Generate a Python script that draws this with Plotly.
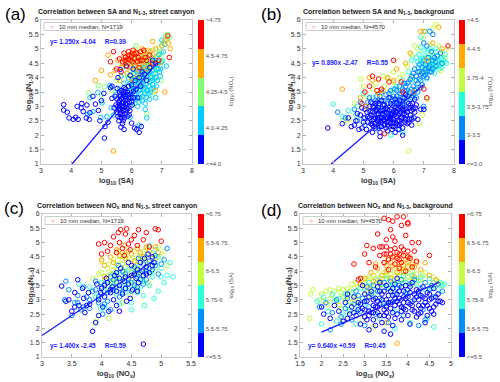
import plotly.graph_objects as go

# ---------------- DATA ----------------
# Panel (a): x = log10(SA), y = log10(N1-3), colour class = log10(NOx) bin
a_c0 = [(3.75,3.06),(3.75,2.87),(3.87,2.80),(3.93,2.60),(4.07,2.55),(4.15,2.62),(4.2,3.0),(4.33,2.95),(4.23,2.55),(4.4,2.82),
        (4.5,2.6),(4.52,3.05),(4.62,2.78),(4.8,3.08),(4.72,3.35),(4.9,2.86),(5.0,3.2),(5.08,3.45),(4.95,2.5),(5.12,2.3),
        (5.1,1.9),(5.22,2.45),(5.3,3.65),(5.35,3.28),(5.42,2.95),(5.48,3.05),(5.52,3.62),(5.55,2.65),(5.6,2.95),(5.62,3.4),
        (5.65,2.78),(5.68,3.12),(5.7,3.32),(5.72,2.5),(5.76,3.0),(5.8,3.6),(5.78,2.75),(5.85,3.22),(5.9,3.7),(5.88,2.92),
        (5.95,3.42),(6.0,2.42),(6.02,3.05),(6.06,3.52),(6.1,2.25),(6.12,3.9),(6.17,2.2),(6.2,3.3),(6.25,2.1),(6.3,3.7),
        (6.32,2.3),(5.65,2.28),(5.55,4.0),(5.62,4.28),(5.75,2.2),(6.5,3.9),(6.42,4.12),(6.8,4.5),(5.95,4.08),(5.6,3.2),
        (5.68,2.6),(5.72,3.5),(5.8,3.1),(5.82,2.85),(5.64,2.9),(5.7,2.7),(5.6,3.05),(5.9,3.3),(6.0,3.75),(6.15,3.6),
        (6.25,4.0),(5.45,3.35),(5.5,2.8),(5.35,3.7),(5.82,4.4),(6.05,4.3),(6.35,4.2),(6.6,4.35),(6.7,4.6),(4.6,2.55),(4.35,3.1),
        (5.58,3.15),(5.62,2.72),(5.66,3.25),(5.7,2.95),(5.74,3.4),(5.78,3.2),(5.84,2.95),(5.86,3.5),(5.92,3.15),(5.66,3.55),
        (5.7,2.4),(5.58,2.5),(5.75,3.65),(5.92,2.7),(5.54,3.0),(6.08,3.3),(6.0,3.15),(5.64,3.35),
        (5.56,2.88),(5.6,3.5),(5.67,3.0),(5.72,3.15),(5.76,2.6),(5.8,3.35),(5.84,3.05),(5.88,3.4),(5.94,2.85),(5.98,3.3),
        (5.52,3.25),(5.74,2.85),(5.62,2.62),(5.86,2.65),(5.78,3.5)]
a_c1 = [(4.55,2.72),(4.62,3.3),(4.72,2.82),(4.88,3.48),(5.02,3.12),(5.28,3.72),(5.48,3.42),(5.32,2.95),(4.98,2.62),(5.18,2.65),
        (5.4,2.7),(5.95,2.62),(6.25,2.35),(6.5,2.6),(6.45,3.1),(5.9,3.95),(6.0,3.5),(6.1,4.0),(6.15,3.25),(6.2,3.7),
        (6.28,4.2),(6.3,3.45),(6.35,3.9),(6.4,3.6),(6.42,4.35),(6.48,3.75),(6.5,4.1),(6.55,3.45),(6.55,4.45),(6.6,3.85),
        (6.62,4.05),(6.65,3.6),(6.7,4.25),(6.75,3.95),(6.78,4.6),(6.82,3.7),(6.88,4.3),(6.9,4.8),(6.95,4.05),(7.0,4.55),
        (7.05,4.9),(7.1,5.15),(7.0,5.3),(6.6,3.25),(6.8,3.3),(6.05,3.2),(6.2,3.0),(5.85,3.4),(5.75,3.8),(5.65,4.05),
        (5.6,3.6),(6.35,3.2),(6.45,2.9),(7.15,4.4),(5.95,3.0),(6.1,3.45),(6.3,4.0),(6.45,4.25),(6.68,4.45),(6.38,3.75),
        (6.0,3.7),(6.05,3.95),(6.12,3.55),(6.18,4.2),(6.22,3.85),(6.28,3.6),(6.33,4.1),(6.38,3.35),(6.4,3.95),(6.45,3.65),
        (6.52,4.3),(6.58,3.7),(6.6,4.2),(6.65,4.0),(6.7,3.75),(6.72,4.4),(6.78,4.15),(6.85,3.9),(6.9,4.55),(6.92,4.2),
        (5.95,3.8),(6.05,3.6),(6.15,3.85),(6.25,3.55),
        (6.02,3.35),(6.08,3.75),(6.14,3.4),(6.2,3.95),(6.26,3.3),(6.32,3.75),(6.36,4.3),(6.44,3.45),(6.5,3.55),(6.56,4.2),
        (6.62,3.5),(6.68,3.9),(6.74,3.65),(6.8,4.0),(6.86,4.45),(6.96,4.3),(6.48,3.3),(6.25,3.15),(5.98,3.55),(6.08,4.15)]
a_c2 = [(4.58,3.48),(4.9,3.72),(5.1,3.68),(5.0,3.4),(5.35,3.55),(5.5,3.9),(5.75,4.1),(5.85,4.5),(5.95,4.25),(6.0,4.7),
        (6.05,3.85),(6.1,4.45),(6.15,5.1),(6.2,4.1),(6.25,4.6),(6.3,3.8),(6.35,4.4),(6.4,4.8),(6.42,3.55),(6.48,4.2),
        (6.5,4.55),(6.55,4.0),(6.58,4.75),(6.62,4.35),(6.65,3.85),(6.7,4.95),(6.72,4.15),(6.78,4.5),(6.82,4.0),(6.85,4.75),
        (6.9,5.05),(6.95,4.4),(7.0,4.85),(7.05,5.2),(7.12,5.45),(7.18,5.3),(7.2,5.5),(7.25,5.4),(6.98,3.9),(6.6,3.4),
        (6.3,3.3),(6.1,3.1),(6.5,2.75),(6.75,3.5),(6.15,3.6),(6.45,4.05),(6.25,4.25),(6.55,4.6),(6.8,4.6),(5.8,3.7),(5.7,4.35),
        (6.1,4.25),(6.15,3.95),(6.2,4.35),(6.28,4.05),(6.32,4.6),(6.38,4.25),(6.42,4.5),(6.46,3.9),(6.52,4.4),(6.58,4.15),
        (6.6,4.55),(6.66,4.25),(6.74,4.65),(6.76,4.35),(6.88,4.55),(6.92,4.85),(6.0,4.05),(5.9,4.0),(6.05,4.6),
        (6.14,4.55),(6.22,4.45),(6.3,4.3),(6.34,4.05),(6.4,4.35),(6.48,4.65),(6.54,4.3),(6.64,4.45),(6.7,4.3),(6.84,4.25),
        (6.94,4.65),(7.04,4.6),(6.68,4.7),(6.36,4.7)]
a_c3 = [(5.4,1.45),(4.8,3.9),(5.0,4.25),(5.22,4.78),(5.3,4.1),(5.45,4.25),(5.55,4.6),(5.65,4.35),(5.75,4.75),(5.8,4.5),
        (5.9,4.65),(5.95,4.35),(6.0,4.85),(6.05,4.5),(6.1,4.7),(6.15,4.3),(6.2,4.85),(6.25,4.45),(6.3,4.65),(6.35,5.0),
        (6.4,4.4),(6.45,4.8),(6.5,4.3),(6.55,4.95),(6.6,4.55),(6.7,4.8),(6.8,5.0),(6.9,4.5),(7.0,5.1),(7.1,5.3),
        (7.22,5.2),(7.28,5.0),(6.0,3.95),(5.85,4.15),(6.35,4.2),(6.7,5.25),(5.6,3.9),(6.8,3.55),(7.1,3.5),(6.2,4.05),
        (5.85,4.6),(5.95,4.75),(6.08,4.4),(6.12,4.9),(6.18,4.6),(6.28,4.75),(6.38,4.55),(6.42,4.9),(6.52,4.7),(6.6,4.4),
        (6.62,4.9),(5.7,4.5)]
a_c4 = [(5.3,4.55),(5.5,4.3),(5.6,4.65),(5.7,4.55),(5.75,4.85),(5.8,4.7),(5.9,4.9),(5.85,4.4),(5.95,4.6),(6.0,4.75),
        (6.05,4.95),(6.1,4.65),(6.15,4.85),(6.2,4.55),(6.3,4.9),(6.35,4.6),(6.45,4.7),(6.5,4.6),(6.6,4.78),(6.7,4.5),
        (6.9,4.6),(7.2,5.45),(7.25,4.7),(5.65,4.2),(6.25,4.35),(5.4,4.9),(6.4,4.95),
        (5.88,4.65),(5.92,4.78),(6.02,4.55),(6.08,4.82),(6.22,4.7),(6.28,4.6),(5.78,4.6)]

# Panel (b): x = log10(SA), y = log10(N1-3), colour class = log10(NOx) bin
b_c0 = [(3.82,2.25),(4.3,2.4),(4.5,2.6),(4.6,2.3),(4.75,2.5),(4.85,2.2),(4.9,2.7),(5.0,2.45),(5.05,2.9),(5.1,2.2),
        (5.15,2.65),(5.2,3.0),(5.25,2.4),(5.3,2.8),(5.35,2.55),(5.4,3.1),(5.4,2.25),(5.45,2.7),(5.5,2.95),(5.5,2.4),
        (5.55,2.1),(5.6,2.6),(5.6,3.2),(5.65,2.85),(5.7,2.35),(5.7,3.05),(5.75,2.6),(5.8,2.15),(5.8,2.9),(5.85,3.3),
        (5.85,2.45),(5.9,2.7),(5.95,3.05),(5.95,2.3),(6.0,2.55),(6.0,2.85),(6.05,3.25),(6.05,2.1),(6.1,2.65),(6.15,2.95),
        (6.15,2.35),(6.2,3.2),(6.2,2.5),(6.25,2.8),(6.3,2.25),(6.3,3.05),(6.35,2.6),(6.4,2.9),(6.45,2.4),(6.5,3.1),
        (6.55,2.7),(6.6,2.35),(6.65,2.9),(6.4,3.4),(6.7,3.25),(6.8,2.55),(6.9,2.9),(7.0,2.9),(5.55,1.95),(6.3,2.0),
        (5.3,2.1),(4.95,2.95),(5.2,2.6),(5.5,2.75),(5.75,2.95),(5.65,2.5),(5.9,2.55),(6.1,2.8),(6.25,2.4),(5.45,2.5),
        (5.35,2.95),(5.6,2.3),(5.8,2.6),(6.05,2.45),(5.95,2.75),(6.35,3.3),(6.55,3.05),
        (5.22,2.82),(5.28,2.5),(5.32,3.0),(5.38,2.4),(5.42,2.85),(5.48,2.6),(5.52,3.1),(5.58,2.45),(5.62,2.75),(5.68,2.55),
        (5.72,2.9),(5.78,2.45),(5.82,2.75),(5.88,2.6),(5.92,2.9),(5.98,2.4),(6.02,2.7),(6.08,2.95),(6.12,2.5),(6.18,2.75),
        (6.22,3.0),(6.28,2.6),(6.32,2.85),(6.38,2.45),(6.42,2.7),(6.48,2.95),(6.52,2.55),(6.58,2.85),(6.62,3.1),(6.68,2.6),
        (6.72,2.95),(5.35,2.3),(5.55,2.3),(5.75,2.25),(5.95,2.2),(6.15,2.2),(5.12,2.8),(5.25,3.15),(5.45,3.15),(5.65,3.05),
        (5.9,3.1),(6.1,3.15),
        (5.15,2.45),(5.25,2.7),(5.3,2.35),(5.4,2.6),(5.45,2.9),(5.5,2.55),(5.55,2.85),(5.6,2.45),(5.65,2.7),(5.7,2.5),
        (5.75,2.8),(5.8,2.35),(5.85,2.65),(5.9,2.4),(5.95,2.6),(6.0,2.3),(6.05,2.8),(6.1,2.4),(6.15,2.7),(6.2,2.35),
        (6.25,2.6),(6.3,2.9),(6.35,2.75),(6.4,2.55),(6.45,2.8),(6.5,2.45),(6.55,2.95),(6.6,2.55),(6.7,2.8),(6.75,3.05),
        (5.05,2.6),(4.95,2.25),(4.8,2.75),(4.7,2.35)]
b_c1 = [(4.15,2.8),(4.4,2.6),(4.7,2.9),(4.9,3.15),(5.0,2.6),(5.1,3.0),(5.2,3.3),(5.3,3.1),(5.35,2.7),(5.45,3.35),
        (5.5,3.05),(5.55,2.6),(5.6,3.5),(5.65,3.2),(5.7,2.75),(5.75,3.4),(5.8,3.1),(5.9,3.55),(5.95,3.25),(6.0,2.8),
        (6.05,3.6),(6.1,3.35),(6.15,3.05),(6.2,3.7),(6.25,3.45),(6.3,3.15),(6.35,3.8),(6.4,3.5),(6.45,3.15),(6.5,3.85),
        (6.55,3.5),(6.6,4.05),(6.65,3.7),(6.7,4.3),(6.75,3.9),(6.8,3.5),(6.85,4.45),(6.9,4.1),(6.95,3.75),(7.0,4.6),
        (7.05,4.3),(7.1,4.0),(7.15,4.55),(7.2,4.2),(7.3,4.6),(7.4,4.4),(7.45,4.75),(7.6,4.5),(7.1,5.1),(7.2,5.6),
        (7.3,5.5),(7.0,5.2),(7.0,3.0),(6.6,2.6),(6.2,2.2),(5.5,2.25),(5.05,2.35),(4.8,2.5),(6.0,3.35),(5.85,2.85),
        (6.25,2.95),(6.45,3.55),(6.8,4.2),(7.25,4.9),(7.55,4.85),(6.3,3.6),(6.75,3.3),(5.4,2.9),
        (6.3,3.3),(6.4,3.7),(6.5,3.35),(6.55,3.95),(6.6,3.6),(6.65,4.15),(6.7,3.55),(6.75,4.05),(6.8,3.8),(6.85,4.2),
        (6.9,3.9),(6.95,4.35),(7.0,4.05),(7.05,4.45),(7.1,4.2),(7.15,4.7),(7.2,4.4),(7.3,4.3),(7.35,4.7),(6.2,3.45),
        (6.0,3.1),(6.1,3.55),(5.9,3.3),(6.35,3.55),(6.45,3.8),(6.6,3.3),
        (6.05,3.1),(6.15,3.25),(6.25,3.2),(6.35,3.1),(6.45,3.35),(6.55,3.25),(6.65,3.45),(6.75,3.6),(6.85,3.95),(6.95,4.15),
        (7.05,4.1),(7.15,4.35),(7.25,4.2),(7.4,4.55),(5.55,3.35),(5.7,3.2),(5.85,3.45),(5.4,3.2),(5.15,3.15),(6.9,3.65)]
b_c2 = [(4.0,3.08),(4.3,2.65),(4.5,2.85),(4.8,3.0),(5.3,3.3),(5.6,2.9),(6.0,3.6),(6.3,3.9),(6.5,4.2),(6.6,4.6),
        (6.7,3.9),(6.8,4.35),(6.85,4.8),(6.9,5.05),(6.95,4.5),(7.0,4.2),(7.05,4.75),(7.1,4.45),(7.15,4.95),(7.2,4.6),
        (7.25,4.3),(7.3,4.75),(7.35,4.5),(7.4,4.9),(7.45,4.6),(7.5,4.3),(7.55,4.7),(7.6,4.45),(7.65,4.6),(7.7,4.8),
        (7.75,4.5),(6.9,5.4),(7.05,5.6),(6.4,3.3),(6.1,3.7),(6.65,3.35),(7.0,2.9),(6.3,2.1),(5.9,2.0),(5.0,3.45),
        (4.75,2.7),(7.1,3.95),(6.75,4.7),(7.35,4.15),
        (6.9,4.6),(7.0,4.4),(7.1,4.7),(7.2,4.45),(7.3,4.4),(7.4,4.65),(7.5,4.55),(7.6,4.65),(7.0,4.95),(6.8,4.55),
        (7.25,4.55),(7.45,4.4),(7.5,4.45),(7.6,4.35),(7.7,4.55),(7.35,4.35),(7.15,4.25),(6.95,4.65),(7.2,5.0),(7.4,5.0)]
b_c3 = [(4.35,2.5),(4.55,2.55),(4.7,3.1),(4.9,3.95),(5.0,3.7),(5.1,3.35),(5.3,3.6),(5.4,3.8),(5.55,3.3),(5.7,3.7),
        (5.8,3.95),(6.0,3.85),(6.2,4.0),(6.3,4.1),(6.45,4.4),(6.6,4.8),(6.7,5.1),(6.8,5.0),(6.9,4.2),(7.0,5.35),
        (7.1,3.25),(7.2,4.8),(7.3,5.7),(7.4,5.85),(7.5,5.1),(7.6,4.9),(7.7,4.7),(7.8,5.0),(7.55,4.25),(6.85,2.4),
        (6.5,1.45),(6.95,2.7),(6.0,4.2),(5.9,3.5),(6.6,4.0),(7.2,5.15),(5.65,4.05)]
b_c4 = [(4.3,3.6),(4.9,3.3),(5.1,3.0),(5.3,3.9),(5.5,3.45),(5.8,4.0),(6.0,3.9),(6.1,4.3),(6.4,4.5),(6.55,4.85),
        (6.9,5.6),(7.0,5.6),(7.5,5.75),(7.3,5.2),(7.1,4.6),(7.6,5.0),(5.65,3.55),(5.2,4.0),(6.65,3.5)]
b_c5 = [(4.95,3.1),(5.05,3.5),(5.2,3.7),(5.3,4.05),(5.45,3.55),(5.6,3.6),(5.85,3.85),(6.0,4.6),(6.3,3.5),(7.0,3.6),
        (7.1,3.3),(5.7,2.05),(6.25,3.85),(7.8,5.1),(5.5,3.95)]

# Panel (c): x = log10(NOx), y = log10(N1-3), colour class = log10(SA) bin
c_c0 = [(3.33,3.48),(3.4,2.95),(3.45,3.0),(3.5,2.6),(3.55,3.25),(3.6,3.7),(3.62,2.8),(3.7,3.05),(3.72,2.55),(3.78,3.25),
        (3.8,2.85),(3.85,1.9),(3.9,2.2),(3.92,3.55),(3.95,2.45),(4.0,3.4),(4.02,2.75),(4.05,3.1),(4.1,3.6),(4.12,2.6),
        (4.15,3.25),(4.2,3.0),(4.22,3.85),(4.25,2.8),(4.3,3.5),(4.32,4.1),(4.35,3.2),(4.4,3.8),(4.42,2.95),(4.45,3.55),
        (4.5,4.2),(4.52,3.35),(4.55,3.9),(4.6,4.05),(4.62,3.6),(4.65,4.3),(4.7,3.85),(4.72,4.45),(4.75,4.15),(4.78,4.6),
        (4.8,3.95),(4.85,4.5),(4.88,4.3),(4.7,1.45),(4.3,2.6),(4.08,3.75),(3.98,3.25),(3.75,2.8),(4.18,3.45),(4.38,3.65),
        (4.48,3.05),(4.58,3.75),(4.68,4.0),(4.25,3.95),(3.68,3.4),(3.55,2.75),(4.45,4.3),
        (4.15,3.35),(4.3,3.75),(4.4,3.4),(4.5,3.85),(4.6,3.3),(4.75,3.9),(4.85,4.2),(4.05,3.5),(3.95,3.0),(4.25,3.3)]
c_c1 = [(3.38,3.0),(3.45,3.35),(3.5,2.45),(3.55,2.9),(3.6,3.15),(3.65,2.65),(3.7,3.45),(3.75,3.1),(3.8,2.7),(3.85,3.3),
        (3.9,3.65),(3.95,2.9),(4.0,3.2),(4.05,3.55),(4.1,2.95),(4.15,3.8),(4.2,3.35),(4.25,3.6),(4.3,3.1),(4.35,4.0),
        (4.4,3.4),(4.45,3.75),(4.5,3.6),(4.55,4.15),(4.6,3.45),(4.65,3.95),(4.7,4.25),(4.75,3.7),(4.8,4.35),(4.85,4.05),
        (4.9,4.55),(4.95,3.9),(5.0,4.25),(5.05,4.4),(3.4,3.65),(4.02,2.5),(4.15,2.65),(4.28,4.2),(4.62,4.45),(5.1,4.8),
        (4.1,3.25),(4.2,3.7),(4.3,3.4),(4.4,3.9),(4.5,3.3),(4.6,3.8),(4.7,3.55),(4.8,4.1),(4.9,4.2),(4.0,3.45),
        (3.8,3.0),(3.9,3.35),(3.6,2.9),(3.7,2.75),(3.95,3.1),(4.05,2.85),(4.35,3.25),(4.55,3.5),(4.65,3.7),(4.75,4.0)]
c_c2 = [(3.62,3.55),(3.8,3.45),(3.9,3.1),(4.0,3.6),(4.05,2.75),(4.1,3.35),(4.2,3.9),(4.25,3.2),(4.35,3.7),(4.4,3.25),
        (4.45,4.05),(4.5,2.9),(4.55,3.55),(4.6,3.25),(4.65,3.75),(4.7,3.15),(4.75,4.5),(4.8,3.5),(4.85,3.8),(4.9,4.75),
        (4.95,3.3),(5.0,4.1),(5.05,3.6),(5.1,3.85),(5.15,4.3),(5.2,3.8),(4.88,3.05),(4.5,2.65),(4.3,2.85),(4.72,2.8),
        (3.98,2.7),(4.8,4.9),
        (4.15,3.6),(4.3,3.95),(4.45,3.4),(4.55,3.95),(4.65,3.45),(4.75,3.95),(4.9,4.3),(4.95,4.5),(4.35,3.45),(4.25,3.75),
        (4.6,4.1),(4.7,3.65),(4.85,4.0),(5.0,3.8),(4.4,3.55),(4.2,3.45)]
c_c3 = [(3.85,3.75),(3.9,2.25),(3.95,3.9),(4.0,4.35),(4.05,3.7),(4.1,4.1),(4.12,2.35),(4.15,3.55),(4.2,4.4),(4.22,3.75),
        (4.25,4.05),(4.3,4.5),(4.32,3.8),(4.35,4.25),(4.4,4.6),(4.42,3.95),(4.45,3.55),(4.5,4.4),(4.52,3.85),(4.55,4.7),
        (4.6,4.2),(4.62,3.9),(4.65,4.55),(4.7,4.05),(4.75,4.8),(4.78,3.6),(4.8,4.25),(4.85,4.6),(4.9,4.0),(4.95,4.85),
        (5.0,4.5),(5.05,4.7),(5.1,4.2),(4.18,3.3),(4.48,3.15),(4.35,2.9),(4.6,3.35),(4.7,4.7),(4.28,4.7),(4.12,4.25),
        (4.58,4.45),(4.38,4.0),
        (4.15,3.9),(4.25,4.25),(4.3,3.65),(4.4,4.15),(4.45,4.45),(4.5,3.7),(4.55,4.05),(4.65,4.35),(4.7,3.8),(4.75,4.3),
        (4.85,4.2),(4.2,4.05),(4.6,4.0),(4.1,3.85),(4.2,3.6),(4.35,4.4),(4.5,4.1),(4.55,3.6),(4.7,4.4),(4.8,3.9),
        (4.9,4.45),(4.0,3.95),(4.45,3.8)]
c_c4 = [(4.0,4.4),(4.05,4.2),(4.15,4.5),(4.2,4.3),(4.25,4.75),(4.3,4.55),(4.35,4.65),(4.4,4.45),(4.45,4.7),(4.5,4.6),
        (4.55,4.35),(4.6,4.8),(4.65,4.65),(4.7,4.5),(4.75,4.85),(4.8,4.7),(4.85,4.45),(4.9,4.85),(4.95,4.65),(4.38,4.9),
        (4.05,3.8)]
c_c5 = [(4.0,4.6),(4.05,5.0),(4.1,4.7),(4.15,4.9),(4.2,5.2),(4.25,4.65),(4.3,5.0),(4.32,5.45),(4.35,4.8),(4.4,5.3),
        (4.42,5.48),(4.45,4.95),(4.5,5.1),(4.55,5.25),(4.6,4.9),(4.62,5.45),(4.7,5.1),(4.75,5.35),(4.8,4.85),(4.9,5.48),
        (4.95,5.45),(5.0,5.05),(4.48,4.75),(4.38,4.55),(4.28,5.35),(3.95,4.95)]

# Panel (d): x = log10(NOx), y = log10(N1-3), colour class = log10(SA) bin
d_c0 = [(2.0,2.75),(2.05,2.5),(2.2,2.35),(2.3,2.8),(2.4,2.6),(2.5,2.25),(2.55,2.9),(2.65,2.5),(2.7,2.75),(2.75,3.1),
        (2.8,2.45),(2.85,2.9),(2.9,2.15),(2.95,2.7),(3.0,3.2),(3.0,2.4),(3.05,2.95),(3.1,2.6),(3.1,1.95),(3.15,3.3),
        (3.2,2.8),(3.2,2.3),(3.25,3.05),(3.3,2.55),(3.3,3.45),(3.35,2.85),(3.4,2.2),(3.4,3.2),(3.45,2.65),(3.5,3.0),
        (3.5,3.5),(3.55,2.4),(3.55,2.9),(3.6,3.3),(3.6,2.7),(3.65,2.1),(3.7,3.05),(3.7,3.55),(3.75,2.5),(3.8,2.85),
        (3.8,3.3),(3.85,2.3),(3.9,3.1),(3.9,2.7),(3.95,3.5),(4.0,2.9),(4.0,2.45),(4.05,3.25),(4.1,2.65),(4.1,3.6),
        (4.15,3.0),(4.2,2.4),(4.2,3.35),(4.25,2.8),(4.3,3.15),(4.3,2.55),(4.35,3.45),(4.4,2.9),(4.45,2.45),(4.45,3.25),
        (4.5,2.7),(4.55,3.05),(4.6,2.5),(4.6,3.4),(4.65,2.85),(4.7,3.2),(4.75,2.95),(3.45,1.9),(3.6,1.8),(2.95,3.5),
        (2.6,3.2),(3.25,2.1),(3.75,3.75),(4.4,2.2),(4.8,2.9),(3.15,2.55),(3.85,2.6),(3.35,3.6),(4.05,2.15),
        (2.9,2.85),(3.0,2.65),(3.1,3.1),(3.2,2.55),(3.3,2.95),(3.35,2.45),(3.45,3.3),(3.5,2.75),(3.55,3.15),(3.65,2.55),
        (3.65,3.4),(3.75,2.95),(3.75,3.2),(3.85,2.75),(3.85,3.45),(3.95,2.65),(3.95,3.05),(4.05,2.85),(4.05,3.45),(4.15,2.6),
        (4.15,3.2),(4.25,3.0),(4.25,2.5),(4.35,2.8),(4.35,3.1),(4.5,3.0),(4.55,2.6),(4.65,3.1),(3.25,2.75),(3.45,2.45),
        (4.45,2.8),(3.05,2.3),
        (3.0,2.95),(3.1,2.45),(3.2,3.0),(3.3,2.75),(3.4,3.0),(3.5,2.55),(3.6,2.9),(3.7,2.35),(3.7,2.8),(3.8,3.05),
        (3.9,2.9),(4.0,3.1),(4.1,2.8),(4.2,3.1),(4.3,2.7),(4.4,3.05),(4.5,3.2),(4.6,2.75),(4.7,2.95),(2.85,2.65),
        (2.75,2.55),(2.6,2.35),(3.35,3.3),(3.65,3.15),(3.9,3.3),(4.25,3.3)]
d_c1 = [(1.95,2.75),(2.1,2.9),(2.25,2.55),(2.35,3.0),(2.45,2.4),(2.55,2.7),(2.6,3.05),(2.7,2.3),(2.75,2.85),(2.8,3.3),
        (2.9,2.6),(2.95,3.05),(3.05,3.45),(3.1,2.75),(3.2,3.5),(3.25,2.5),(3.35,3.05),(3.45,3.6),(3.5,2.8),(3.6,3.65),
        (3.65,2.95),(3.75,3.4),(3.85,3.7),(3.9,2.45),(4.0,3.35),(4.1,2.95),(4.15,3.7),(4.25,3.2),(4.35,2.65),(4.4,3.6),
        (4.5,3.35),(4.6,3.1),(4.7,3.55),(4.8,3.3),(4.4,2.3),(4.25,2.1),(3.55,2.2),(3.0,2.1),(2.45,2.15),(2.2,1.95),
        (3.3,3.3),(3.55,3.4),(3.8,3.5),(4.05,3.55),(4.3,3.4),(4.55,3.5),(2.85,3.15),(3.15,3.2),(3.7,3.2),(3.95,3.25)]
d_c2 = [(1.9,2.95),(2.0,2.15),(2.05,3.1),(2.15,2.6),(2.25,3.2),(2.35,2.25),(2.4,3.05),(2.5,2.5),(2.6,2.8),(2.7,3.25),
        (2.8,2.6),(2.9,3.4),(3.0,2.9),(3.1,3.6),(3.2,3.1),(3.3,3.7),(3.4,2.9),(3.5,3.75),(3.6,3.45),(3.7,2.6),
        (3.8,3.55),(3.9,3.85),(4.0,3.2),(4.1,3.85),(4.2,3.55),(4.3,3.8),(4.4,3.35),(4.5,3.75),(4.6,3.6),(4.7,3.35),
        (4.8,3.5),(4.85,3.55),(4.45,2.35),(4.05,2.2),(3.7,2.0),(2.8,2.15),(4.6,2.05),(3.35,2.35),
        (2.3,2.95),(2.55,3.2),(2.65,2.6),(2.85,2.8),(3.05,3.3),(3.25,3.35),(3.45,3.45),(3.65,3.55),(3.95,3.6),(4.2,3.7),
        (4.55,3.4),(4.75,3.6)]
d_c3 = [(1.72,2.35),(1.75,3.2),(1.8,3.35),(1.95,3.0),(2.05,2.95),(2.1,3.3),(2.2,3.05),(2.3,3.3),(2.4,2.8),(2.45,3.25),
        (2.55,3.0),(2.6,3.4),(2.65,2.65),(2.7,3.55),(2.8,3.1),(2.85,3.45),(2.9,2.9),(2.95,3.7),(3.0,3.35),(3.05,3.1),
        (3.1,3.8),(3.15,3.5),(3.2,3.25),(3.25,3.7),(3.3,3.9),(3.35,3.4),(3.4,3.75),(3.45,3.95),(3.5,3.5),(3.55,3.8),
        (3.6,4.05),(3.65,3.6),(3.7,3.85),(3.75,4.1),(3.8,3.7),(3.85,3.95),(3.9,3.6),(3.95,4.15),(4.0,3.8),(4.05,3.65),
        (4.1,4.0),(4.15,3.5),(4.2,3.9),(4.3,3.7),(4.4,3.95),(4.5,3.6),(4.6,3.8),(4.7,3.65),(4.8,3.55),(2.5,2.3),
        (2.95,2.3),(3.2,2.05),(2.75,3.0),(3.0,3.55),(3.55,3.3),
        (2.5,3.35),(2.75,3.4),(2.9,3.55),(3.1,3.6),(3.3,3.6),(3.4,3.55),(3.5,3.85),(3.7,3.7),(3.9,3.8),(4.1,3.75),
        (4.25,3.65),(2.35,2.95),(2.2,3.35),(2.6,3.15),
        (2.0,3.2),(2.15,2.85),(2.25,3.15),(2.4,3.4),(2.5,3.1),(2.65,3.3),(2.8,3.6),(3.05,3.75),(3.2,3.85),(3.6,3.9),
        (3.8,3.95),(4.0,3.95),(4.35,3.85),(2.7,2.9),(2.45,2.7)]
d_c4 = [(2.9,3.55),(3.0,3.75),(3.15,3.95),(3.2,3.65),(3.3,4.1),(3.4,3.85),(3.45,4.3),(3.5,4.0),(3.55,4.45),(3.6,3.75),
        (3.65,4.2),(3.7,4.5),(3.75,3.95),(3.8,4.3),(3.85,4.6),(3.9,4.0),(3.95,4.4),(4.0,4.15),(4.05,4.5),(4.1,4.25),
        (4.15,3.8),(4.2,4.3),(4.3,4.05),(4.4,4.3),(4.5,3.85),(4.65,3.7),(4.7,3.55),(3.75,1.48),(3.5,2.2),(3.35,3.65),
        (3.1,3.4),(3.25,4.25),(3.6,4.3),(3.8,4.15),(4.0,4.35),(3.5,4.2),(3.9,4.2),(4.15,4.15)]
d_c5 = [(2.75,4.25),(2.9,3.75),(3.0,4.6),(3.05,4.9),(3.1,4.3),(3.2,4.8),(3.25,4.15),(3.3,5.3),(3.35,4.55),(3.4,4.85),
        (3.45,4.3),(3.5,5.1),(3.5,4.6),(3.55,4.4),(3.6,5.45),(3.6,4.75),(3.65,4.5),(3.7,5.05),(3.7,4.25),(3.75,4.65),
        (3.75,5.9),(3.8,4.4),(3.85,4.85),(3.85,5.6),(3.9,4.55),(3.95,5.25),(4.0,4.7),(4.0,5.7),(4.05,4.45),(4.1,5.0),
        (4.1,4.15),(4.15,4.7),(4.2,4.35),(4.25,5.0),(3.45,5.85),(3.55,5.8),(3.65,5.75),(4.0,5.65),(4.5,4.55),(2.85,3.7),
        (3.95,4.0),(3.55,4.05),(3.35,4.85),(3.65,5.2),(3.8,4.1),(3.9,5.9),
        (3.5,4.85),(3.6,4.6),(3.7,4.8),(3.8,4.6),(3.9,4.75),(4.0,4.5),(3.75,4.45),(3.45,4.6),(3.85,4.3)]

# Fitted lines (end points)
fit_a_x = [4.03, 6.85]; fit_a_y = [1.0, 4.52]
fit_b_x = [3.93, 7.0];  fit_b_y = [1.0, 3.76]
fit_c_x = [3.0, 4.88];  fit_c_y = [1.75, 4.38]
fit_d_x = [2.0, 4.72];  fit_d_y = [1.87, 3.61]

# Colour-bar labels (top to bottom)
a_labels = [">4.75", "4.5-4.75", "4.25-4.5", "4.0-4.25", "<=4.0"]
b_labels = [">4.5", "4-4.5", "3.75-4", "3.5-3.75", "3-3.5", "<=3.0"]
cd_labels = [">6.75", "6.5-6.75", "6-6.5", "5.75-6", "5.5-5.75", "<=5.5"]

a_cols = ["#0000ff", "#00ccff", "#80ff70", "#ffaa00", "#ff0000"]
b_cols = ["#0000ff", "#0088ff", "#20ffd8", "#c0ff40", "#ffaa00", "#ff0000"]
cd_cols = ["#0000ff", "#0090ff", "#30ffdc", "#c0ff40", "#ffaa00", "#ff0000"]

# ---------------- FIGURE ----------------
FONT = "Arial, Liberation Sans, sans-serif"
W, H = 500, 382
fig = go.Figure()

def px(x):
    return x / W

def py(y):
    return 1 - y / H

panels = [
    dict(ax="", classes=[(2, a_c2), (1, a_c1), (3, a_c3), (0, a_c0), (4, a_c4)], cols=a_cols, labels=a_labels,
         fit=(fit_a_x, fit_a_y), box=(41, 192, 20, 164), xr=[3, 8], dt=1, cbx=198, cbt=231,
         title="Correlation between SA and N<sub>1-3</sub>, street canyon", xt="log<sub>10</sub> (SA)",
         cbtitle="log<sub>10</sub> (NO<sub>x</sub>)", eq="y= 1.250x -4.04&nbsp;&nbsp;&nbsp;&nbsp;&nbsp;R=0.39", eqxy=(3.22, 5.25),
         leg="10 min median, N=1719", lab="(a)", labx=3, laby=15),
    dict(ax="2", classes=[(3, b_c3), (2, b_c2), (1, b_c1), (0, b_c0), (4, b_c4), (5, b_c5)], cols=b_cols, labels=b_labels,
         fit=(fit_b_x, fit_b_y), box=(303, 454, 20, 164), xr=[3, 8], dt=1, cbx=459, cbt=490,
         title="Correlation between SA and N<sub>1-3</sub>, background", xt="log<sub>10</sub> (SA)",
         cbtitle="log<sub>10</sub> (NO<sub>x</sub>)", eq="y= 0.890x -2.47&nbsp;&nbsp;&nbsp;&nbsp;&nbsp;R=0.55", eqxy=(3.22, 4.5),
         leg="10 min median, N=4570", lab="(b)", labx=259, laby=15),
    dict(ax="3", classes=[(3, c_c3), (2, c_c2), (4, c_c4), (5, c_c5), (1, c_c1), (0, c_c0)], cols=cd_cols, labels=cd_labels,
         fit=(fit_c_x, fit_c_y), box=(42, 191, 214, 357), xr=[3, 5.5], dt=0.5, cbx=198, cbt=231,
         title="Correlation between NO<sub>x</sub> and N<sub>1-3</sub>, street canyon", xt="log<sub>10</sub> (NO<sub>x</sub>)",
         cbtitle="log<sub>10</sub> (SA)", eq="y= 1.400x -2.45&nbsp;&nbsp;&nbsp;&nbsp;&nbsp;R=0.59", eqxy=(3.1, 1.38),
         leg="10 min median, N=1719", lab="(c)", labx=2, laby=208),
    dict(ax="4", classes=[(3, d_c3), (2, d_c2), (4, d_c4), (5, d_c5), (1, d_c1), (0, d_c0)], cols=cd_cols, labels=cd_labels,
         fit=(fit_d_x, fit_d_y), box=(300, 451, 214, 357), xr=[1.5, 5], dt=0.5, cbx=459, cbt=490,
         title="Correlation between NO<sub>x</sub> and N<sub>1-3</sub>, background", xt="log<sub>10</sub> (NO<sub>x</sub>)",
         cbtitle="log<sub>10</sub> (SA)", eq="y= 0.640x +0.59&nbsp;&nbsp;&nbsp;&nbsp;&nbsp;R=0.45", eqxy=(1.64, 1.38),
         leg="10 min median, N=4570", lab="(d)", labx=259, laby=210),
]

annotations = []
shapes = []
layout_axes = {}

def ann(text, x, y, size, color, xanchor="center", yanchor="middle", xref="paper", yref="paper", angle=0):
    annotations.append(dict(text=text, x=x, y=y, xref=xref, yref=yref, xanchor=xanchor, yanchor=yanchor,
                            textangle=angle, showarrow=False, font=dict(size=size, color=color, family=FONT)))

for p in panels:
    ax = p["ax"]
    xa, ya = "x" + ax, "y" + ax
    ca = "coloraxis" + ax
    n = len(p["cols"])
    X, Y, C = [], [], []
    for k, pts in p["classes"]:
        for (x, y) in pts:
            X.append(x); Y.append(y); C.append(k + 0.5)
    fig.add_trace(go.Scatter(
        x=X, y=Y, mode="markers", xaxis=xa, yaxis=ya, showlegend=False, hoverinfo="skip",
        marker=dict(symbol="circle-open", size=4.6, color=C, coloraxis=ca, line=dict(width=1))))
    fig.add_trace(go.Scatter(
        x=p["fit"][0], y=p["fit"][1], mode="lines", xaxis=xa, yaxis=ya, showlegend=False,
        line=dict(color="#1a1aff", width=1.3)))

    l, r, t, b = p["box"]
    axstyle = dict(showline=True, mirror="ticks", linecolor="#c8c8c8", linewidth=1, ticks="inside",
                   ticklen=3, tickcolor="#b0b0b0", showgrid=False, zeroline=False, automargin=False,
                   tickfont=dict(size=7, color="#333333", family=FONT))
    layout_axes["xaxis" + ax] = dict(domain=[px(l), px(r)], range=p["xr"], dtick=p["dt"], tick0=0,
                                     anchor=ya, **axstyle)
    layout_axes["yaxis" + ax] = dict(domain=[py(b), py(t)], range=[1, 6], dtick=0.5, tick0=0,
                                     anchor=xa, **axstyle)
    cs = []
    for i, col in enumerate(p["cols"]):
        cs.append([i / n, col]); cs.append([(i + 1) / n, col])
    L = len(p["labels"])
    tv = [n - i * n / (L - 1) for i in range(L)]
    layout_axes[ca] = dict(cmin=0, cmax=n, colorscale=cs, colorbar=dict(
        x=px(p["cbx"]), xanchor="left", y=py(t), yanchor="top", len=b - t, lenmode="pixels",
        thickness=6, outlinewidth=0, xpad=0, ypad=0, ticks="", tickvals=tv, ticktext=p["labels"],
        tickfont=dict(size=6, color="#555555", family=FONT)))

    cx = px((l + r) / 2)
    ann("<b>" + p["title"] + "</b>", cx, py(t - 8), 7, "#222222")
    ann("<b>" + p["xt"] + "</b>", cx, py(b + 17), 7.5, "#333333")
    ann("<b>log<sub>10</sub> (N<sub>1-3</sub>)</b>", px(l - 12), py((t + b) / 2), 7.5, "#333333", angle=-90)
    ann(p["cbtitle"], px(p["cbt"]), py((t + b) / 2), 6, "#555555", angle=-90)
    ann("<b>" + p["eq"] + "</b>", p["eqxy"][0], p["eqxy"][1], 6.5, "#2222ff", xanchor="left", xref=xa, yref=ya)
    ann(p["lab"], px(p["labx"]), py(p["laby"]), 17, "#000000", xanchor="left")
    # legend box
    shapes.append(dict(type="rect", xref="paper", yref="paper", x0=px(l + 3), x1=px(l + 79),
                       y0=py(t + 10.5), y1=py(t + 2.5), line=dict(color="#cccccc", width=1), fillcolor="white"))
    ann("○", px(l + 10.5), py(t + 6.5), 6, "#ff0000")
    ann(p["leg"], px(l + 16), py(t + 6.5), 6, "#333333", xanchor="left")

fig.update_layout(
    width=W, height=H, margin=dict(l=0, r=0, t=0, b=0, autoexpand=False),
    paper_bgcolor="white", plot_bgcolor="white",
    font=dict(family=FONT),
    annotations=annotations, shapes=shapes, showlegend=False,
    **layout_axes)

# remove the browser's default page margin so the 500x382 figure fills the window
fig.write_html("out.html", config={"displayModeBar": False},
               post_script="document.body.style.margin='0px';")
